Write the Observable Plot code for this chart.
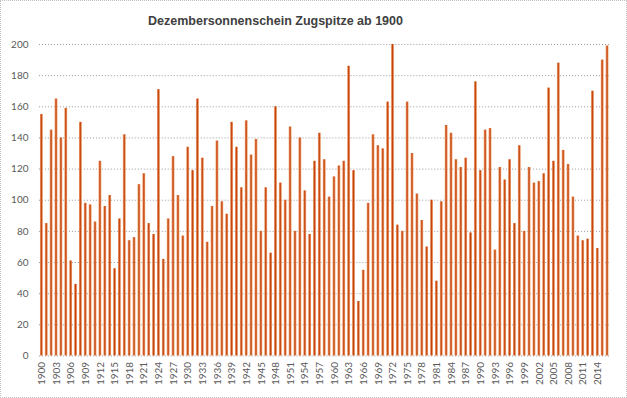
<!DOCTYPE html>
<html>
<head>
<meta charset="utf-8">
<script src="https://cdn.jsdelivr.net/npm/d3@7"></script>
<script src="https://cdn.jsdelivr.net/npm/@observablehq/plot@0.6"></script>
<style>
  html, body { margin: 0; padding: 0; background: #fff; }
  #wrap { position: relative; width: 625px; height: 396px; border: 1px dotted #c0c0c0; overflow: hidden; }
  #title { position: absolute; left: 147px; top: 13px; font: bold 12.5px "Liberation Sans", Arial, sans-serif; color: #404040; white-space: nowrap; }
  #chart { position: absolute; left: -1px; top: 34px; }
</style>
</head>
<body>
<div id="wrap">
  <div id="title">Dezembersonnenschein Zugspitze ab 1900</div>
  <div id="chart"></div>
</div>
<script>
const startYear = 1900;
const sunshineHours = [
  155, 85, 145, 165, 140, 159, 61, 46, 150, 98,
  97, 86, 125, 96, 103, 56, 88, 142, 74, 76,
  110, 117, 85, 78, 171, 62, 88, 128, 103, 77,
  134, 119, 165, 127, 73, 96, 138, 99, 91, 150,
  134, 108, 151, 129, 139, 80, 108, 66, 160, 111,
  100, 147, 80, 140, 106, 78, 125, 143, 126, 102,
  115, 122, 125, 186, 119, 35, 55, 98, 142, 135,
  133, 163, 200, 84, 80, 163, 130, 104, 87, 70,
  100, 48, 99, 148, 143, 126, 121, 127, 79, 176,
  119, 145, 146, 68, 121, 113, 126, 85, 135, 80,
  121, 111, 112, 117, 172, 125, 188, 132, 123, 102,
  77, 74, 75, 170, 69, 190, 199
];
const xTicks = [1900,1903,1906,1909,1912,1915,1918,1921,1924,1927,1930,1933,1936,1939,1942,1945,1948,1951,1954,1957,1960,1963,1966,1969,1972,1975,1978,1981,1984,1987,1990,1993,1996,1999,2002,2005,2008,2011,2014];
const yTicks = [0,20,40,60,80,100,120,140,160,180,200];

const years = sunshineHours.map((_, i) => startYear + i);
const data = sunshineHours.map((v, i) => ({year: years[i], value: v}));

const plot = Plot.plot({
  width: 627,
  height: 363,
  marginLeft: 39,
  marginRight: 16.5,
  marginTop: 9,
  marginBottom: 42,
  style: {fontFamily: "Lato, 'Liberation Sans', sans-serif", fontSize: "10px", color: "#595959", background: "transparent"},
  x: {type: "band", domain: years, paddingInner: 0.42, paddingOuter: 0.21, label: null},
  y: {domain: [0, 200], label: null},
  marks: [
    Plot.gridY(yTicks, {stroke: "#9a9a9a", strokeOpacity: 1, strokeDasharray: "1,2"}),
    Plot.barY(data, {x: "year", y: "value", fill: "#d86a2c"}),
    Plot.axisY(yTicks, {tickSize: 0, tickPadding: 11, fill: "#595959"}),
    Plot.axisX(xTicks, {tickSize: 0, tickPadding: 6, tickRotate: -90, fill: "#595959", tickFormat: d => String(d)})
  ]
});

// horizontal gradient to mimic the shaded bars
const svg = d3.select(plot);
const defs = svg.insert("defs", ":first-child");
const g = defs.append("linearGradient").attr("id", "barGrad").attr("x1", "0").attr("x2", "1").attr("y1", "0").attr("y2", "0");
g.append("stop").attr("offset", "0%").attr("stop-color", "#f0a878");
g.append("stop").attr("offset", "50%").attr("stop-color", "#c4420c");
g.append("stop").attr("offset", "100%").attr("stop-color", "#f0a878");
svg.selectAll("g[aria-label='bar'] rect").attr("fill", "url(#barGrad)");
svg.selectAll("g[aria-label='bar']").attr("fill", "url(#barGrad)");

document.getElementById("chart").appendChild(plot);
</script>
</body>
</html>
